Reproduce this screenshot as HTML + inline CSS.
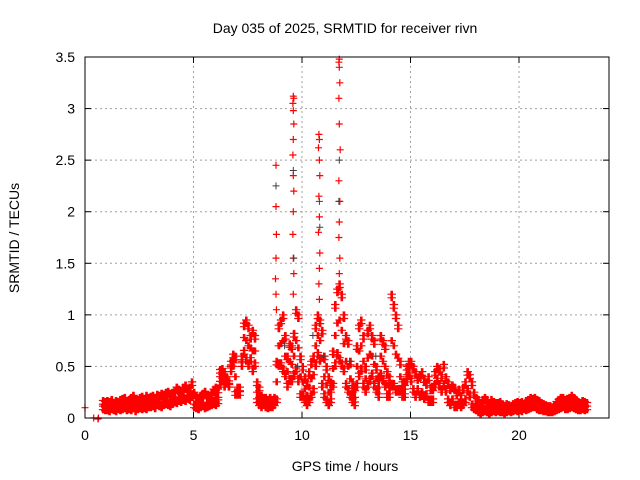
<!DOCTYPE html>
<html><head><meta charset="utf-8"><style>
body{margin:0;background:#fff}
svg{display:block;font-family:"Liberation Sans",sans-serif}
</style></head><body>
<svg id="chart" width="640" height="480" xmlns="http://www.w3.org/2000/svg">
<rect width="640" height="480" fill="#fff"/>
<text x="345" y="33" font-size="14" text-anchor="middle">Day 035 of 2025, SRMTID for receiver rivn</text>
<text x="345" y="471" font-size="14" text-anchor="middle">GPS time / hours</text>
<text x="19" y="238" font-size="14" text-anchor="middle" transform="rotate(-90 19 238)">SRMTID / TECUs</text>
<g id="grid"></g><g id="ticks"></g><g id="marks"></g>
<rect x="85" y="57" width="524" height="361" fill="none" stroke="#000" stroke-width="1"/>
</svg>
<script>
const xTicks=[0,5,10,15,20];
const yTicks=[0,0.5,1,1.5,2,2.5,3,3.5];
const yTickLabels=["0","0.5","1","1.5","2","2.5","3","3.5"];
const binStart=0.8;
const hiVals=[.17,.16,
.17,.16,.18,.15,.17,.16,.18,.19,.2,.17,
.18,.2,.22,.19,.18,.2,.21,.19,.22,.2,
.21,.22,.2,.23,.22,.24,.23,.25,.26,.24,
.25,.27,.3,.28,.26,.3,.32,.28,.3,.35,
.25,.22,.2,.22,.24,.26,.23,.22,.25,.28,
.3,.28,.47,.48,.45,.4,.36,.55,.62,.6,
.3,.3,.6,.92,.95,.9,.8,.85,.8,.35,
.3,.22,.2,.2,.18,.2,.18,.2,.55,.9,
.95,1.0,.8,.6,.72,.7,.82,1.05,1.0,.6,
.5,.4,.35,.45,.55,.6,.9,1.0,.95,.85,
.6,.5,.4,.35,.65,1.1,1.25,1.3,1.2,1.0,
.8,.75,.55,.35,.3,.7,.9,.95,.8,.5,
.85,.9,.8,.75,.5,.4,.8,.75,.7,.45,
.4,1.2,1.1,1.0,.9,.55,.35,.35,.5,.55,
.55,.5,.45,.4,.42,.45,.38,.35,.4,.3,
.3,.45,.5,.48,.42,.52,.4,.35,.3,.32,
.3,.25,.28,.22,.3,.35,.45,.42,.35,.25,
.2,.18,.15,.18,.2,.18,.15,.18,.16,.15,
.15,.16,.14,.12,.14,.13,.12,.14,.15,.16,
.15,.16,.14,.17,.18,.2,.19,.2,.18,.17,
.15,.14,.13,.12,.12,.11,.13,.16,.18,.2,
.2,.18,.19,.2,.22,.2,.18,.16,.15,.17,.16,.15];
const loVals=[.08,.07,
.07,.06,.08,.07,.06,.08,.07,.08,.09,.07,
.08,.07,.09,.06,.08,.09,.08,.09,.08,.1,
.1,.11,.09,.12,.11,.1,.12,.13,.12,.11,
.13,.15,.14,.16,.15,.17,.16,.18,.17,.2,
.1,.09,.08,.1,.11,.09,.1,.11,.12,.13,
.12,.14,.32,.35,.3,.33,.3,.45,.5,.22,
.22,.22,.5,.62,.55,.5,.55,.45,.5,.15,
.12,.1,.12,.1,.09,.1,.1,.12,.15,.5,
.5,.45,.4,.3,.35,.35,.4,.45,.35,.2,
.2,.15,.12,.15,.2,.25,.5,.6,.55,.3,
.2,.15,.12,.15,.3,.5,.6,.55,.5,.45,
.3,.25,.2,.15,.12,.3,.4,.45,.3,.25,
.3,.35,.4,.3,.25,.2,.4,.35,.3,.2,
.2,.3,.3,.25,.25,.25,.2,.2,.35,.4,
.35,.25,.2,.25,.2,.22,.18,.2,.15,.15,
.15,.3,.35,.3,.25,.3,.25,.15,.12,.15,
.1,.1,.12,.1,.12,.15,.25,.2,.1,.08,
.07,.05,.04,.05,.06,.05,.04,.05,.06,.05,
.06,.05,.05,.04,.05,.06,.05,.06,.07,.06,
.07,.06,.08,.07,.08,.09,.1,.1,.08,.07,
.07,.06,.06,.05,.05,.05,.06,.07,.08,.09,
.1,.08,.08,.09,.1,.09,.08,.07,.07,.08,.07,.08];
const midStart=6.0;
const midVals=[
.2,.2,.4,.42,.38,.36,.33,.5,.56,.4,
.26,.26,.55,.78,.75,.7,.68,.65,.65,.25,
.2,.16,.16,.15,.14,.15,.14,.16,.35,.7,
.72,.75,.6,.45,.55,.52,.6,.75,.68,.4,
.35,.28,.22,.3,.38,.42,.7,.8,.75,.58,
.4,.32,.25,.25,.48,.8,.92,.95,.85,.72,
.55,.5,.38,.25,.2,.5,.65,.7,.55,.38,
.58,.62,.6,.52,.38,.3,.6,.55,.5,.32,
.3,.75,.7,.62,.58,.4,.28,.28,.42,.48];
const spikeX=[8.8,8.8,8.82,8.8,8.78,8.8,8.82,
9.6,9.62,9.58,9.6,9.62,9.6,9.58,9.6,9.62,9.6,9.58,9.6,9.62,9.6,
10.78,10.8,10.76,10.8,10.82,10.78,10.8,10.76,10.82,10.8,10.78,10.8,
11.72,11.7,11.72,11.74,11.7,11.72,11.76,11.7,11.74,11.72,11.7,11.74,11.72,11.7];
const spikeY=[2.45,2.05,1.78,1.55,1.35,1.2,1.05,
3.12,3.1,3.05,2.98,2.85,2.7,2.55,2.35,2.2,2.0,1.78,1.55,1.4,1.2,
2.75,2.7,2.62,2.5,2.35,2.15,1.95,1.8,1.6,1.45,1.3,1.15,
3.48,3.45,3.4,3.25,3.1,2.85,2.6,2.3,2.1,1.9,1.75,1.55,1.4,1.25];
const extraX=[0,0.4,0.6,0.62];
const extraY=[0.1,0,-0.01,0];
const darkX=[8.8,9.6,9.62,10.8,10.82,11.72,11.7,9.2,11.0,12.2,13.4,10.5,9.8];
const darkY=[2.25,2.4,1.55,2.1,1.85,2.5,2.1,0.7,0.6,0.55,0.6,0.8,0.5];

const X0=85,PXH=21.7,Y0=418,Y1=57,YMAX=3.5;
const sx=v=>X0+v*PXH;
const sy=v=>Y0-(v/YMAX)*(Y0-Y1);
const X1=609;
const NS="http://www.w3.org/2000/svg";
function mk(tag,attrs,parent){const e=document.createElementNS(NS,tag);for(const k in attrs)e.setAttribute(k,attrs[k]);parent.appendChild(e);return e;}
const grid=document.getElementById('grid'),ticks=document.getElementById('ticks'),marks=document.getElementById('marks');
xTicks.forEach((t,i)=>{
  const x=sx(t);
  if(t>0){const g=mk('line',{x1:x,x2:x,y1:Y0,y2:Y1,stroke:'#a0a0a0','stroke-dasharray':'2,3'},grid);
  
  }
  mk('line',{x1:x,x2:x,y1:Y0,y2:Y0-6,stroke:'#000'},ticks);
  mk('line',{x1:x,x2:x,y1:Y1,y2:Y1+6,stroke:'#000'},ticks);
  const l=mk('text',{x:x,y:Y0+22,'font-size':14,'text-anchor':'middle'},ticks);
  l.textContent=String(t);
  
  
});
yTicks.forEach((t,i)=>{
  const y=sy(t);
  if(t>0&&t<YMAX){const g=mk('line',{x1:X0,x2:X1,y1:y,y2:y,stroke:'#a0a0a0','stroke-dasharray':'2,3'},grid);
  
  }
  mk('line',{x1:X0,x2:X0+6,y1:y,y2:y,stroke:'#000'},ticks);
  mk('line',{x1:X1,x2:X1-6,y1:y,y2:y,stroke:'#000'},ticks);
  const l=mk('text',{x:X0-10,y:y+5,'font-size':14,'text-anchor':'end'},ticks);
  l.textContent=yTickLabels[i];
  
  
});
let pathRed='',pathDark='';
const plus=(h,v)=>{const x=sx(h),y=sy(v);return `M${(x-3.5).toFixed(1)} ${y.toFixed(1)}h7M${x.toFixed(1)} ${(y-3.5).toFixed(1)}v7`;};
const offs=[0,0.033,0.066];
hiVals.forEach((v,i)=>{const h=binStart+i*0.1;offs.forEach(o=>{pathRed+=plus(h+o,v)+plus(h+o,v-0.035);});});
loVals.forEach((v,i)=>{const h=binStart+i*0.1;offs.forEach(o=>{pathRed+=plus(h+o,v)+plus(h+o,v+0.035);});});
midVals.forEach((v,i)=>{const h=midStart+i*0.1;offs.forEach(o=>{pathRed+=plus(h+o,v);});});
spikeY.forEach((v,i)=>{pathRed+=plus(spikeX[i],v);});
extraY.forEach((v,i)=>{pathRed+=plus(extraX[i],v);});
darkY.forEach((v,i)=>{pathDark+=plus(darkX[i],v);});
const pr=mk('path',{d:pathRed,stroke:'#ff0000','stroke-width':1.2,fill:'none'},marks);


const pd=mk('path',{d:pathDark,stroke:'#404040','stroke-width':1,fill:'none'},marks);


</script>
</body></html>
